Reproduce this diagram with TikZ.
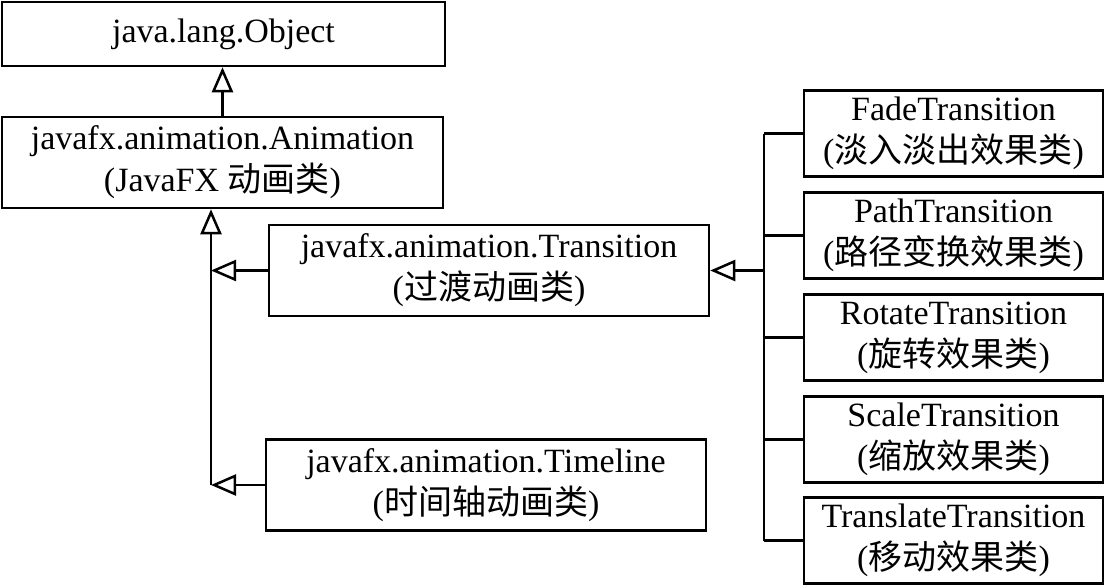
\documentclass[tikz,border=0pt]{standalone}
\usepackage{fontspec}
\setmainfont{Liberation Serif}
\newfontfamily\cjk{Noto Sans CJK SC}
\usetikzlibrary{arrows.meta}
\begin{document}
\begin{tikzpicture}[x=1pt,y=-1pt,
  cls/.style={draw, line width=2.5pt, rectangle, align=center, inner sep=0pt,
    font=\fontsize{34}{42}\selectfont},
  wide/.style={cls, minimum width=441pt, minimum height=91pt},
  leaf/.style={cls, minimum width=299pt, minimum height=86pt},
  conn/.style={line width=2.5pt},
  inh/.style={conn, -{Triangle[open, length=25pt, width=21pt]}}]
\useasboundingbox (0,0) rectangle (1106,587);
\node[cls, minimum width=443pt, minimum height=64pt] (obj) at (223.5,34) {java.lang.Object};
\node[wide] (anim) at (222.5,162.5) {javafx.animation.Animation\\(JavaFX {\cjk 动画类})};
\node[wide, minimum width=440pt] (trans) at (489,270.5) {javafx.animation.Transition\\({\cjk 过渡动画类})};
\node[wide, minimum width=440pt] (tl) at (486,485) {javafx.animation.Timeline\\({\cjk 时间轴动画类})};
\node[leaf] (fade) at (953.5,133.5) {FadeTransition\\({\cjk 淡入淡出效果类})};
\node[leaf] (path) at (953.5,235.5) {PathTransition\\({\cjk 路径变换效果类})};
\node[leaf] (rot) at (953.5,337.5) {RotateTransition\\({\cjk 旋转效果类})};
\node[leaf] (scale) at (953.5,439.5) {ScaleTransition\\({\cjk 缩放效果类})};
\node[leaf] (transl) at (953.5,540.5) {TranslateTransition\\({\cjk 移动效果类})};
% left bus
\coordinate (lb) at (211,485);
\coordinate (rb) at (764,270.5);
\draw[inh] (anim.north) -- (anim.north |- obj.south);
\draw[inh] (tl.west -| lb) -- (lb |- anim.south);
\draw[inh] (trans.west) -- (trans.west -| lb);
\draw[inh] (tl.west) -- (lb);
% right bus
\draw[conn] (fade.west -| rb) -- (transl.west -| rb);
\foreach \n in {fade,path,rot,scale,transl}
  \draw[conn] (\n.west) -- (\n.west -| rb);
\draw[inh] (rb) -- (trans.east);
\end{tikzpicture}
\end{document}
